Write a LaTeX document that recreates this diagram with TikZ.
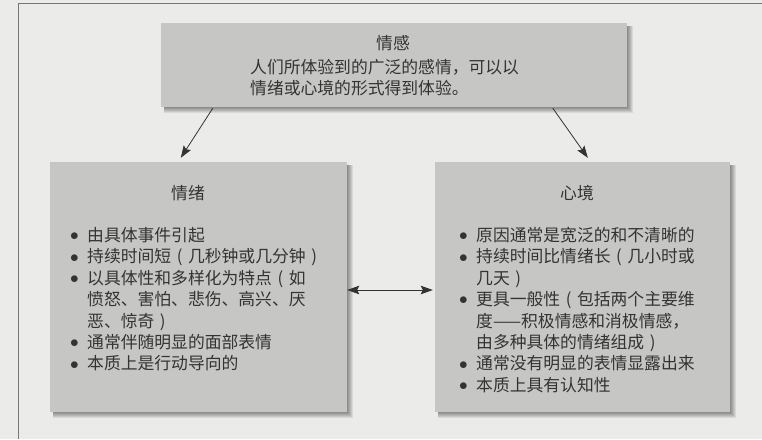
\documentclass[tikz,border=0pt]{standalone}
\usepackage{fontspec}
\setmainfont{Noto Sans CJK SC}
\usetikzlibrary{arrows.meta,calc}
\definecolor{bg}{HTML}{EBEBEA}
\definecolor{boxgray}{HTML}{C6C6C5}
\definecolor{ink}{HTML}{333333}
\definecolor{framec}{HTML}{767676}
\newcommand\bul{\makebox[17pt][l]{\raisebox{0.8pt}{\fontsize{16}{16}\selectfont$\bullet$}}}
\newcommand\ind{\hspace*{17pt}}
\newcommand\boxshadow[4]{%
  \foreach \k in {1,...,6}{\fill[black,opacity=0.08] (#1+3,#2+3) rectangle (#3+\k,#4+\k);}}
\tikzset{
  box/.style={fill=boxgray, draw=none, inner sep=0pt},
  txt/.style={text=ink, font=\fontsize{16.8}{21.4}\selectfont, inner sep=0pt},
  listtxt/.style={txt, text width=290pt, align=left, anchor=base west},
  arr/.style={-{Stealth[length=12pt,width=8.5pt,inset=2pt]}, line width=0.8pt, draw=ink},
  arrboth/.style={{Stealth[length=12pt,width=8.5pt,inset=2pt]}-{Stealth[length=12pt,width=8.5pt,inset=2pt]}, line width=0.8pt, draw=ink}
}
\begin{document}
\begin{tikzpicture}[x=1pt,y=-1pt]
\fill[bg] (0,0) rectangle (762,439);
\useasboundingbox (0,0) rectangle (762,439);
\draw[framec, line width=0.8pt] (18,439) -- (18,3) -- (762,3);
% shadows
\boxshadow{161}{23}{627}{107}
\boxshadow{50}{162}{347}{412}
\boxshadow{435}{162}{730}{412}
% boxes
\node[box, minimum width=466pt, minimum height=84pt] (top) at (394,65) {};
\node[box, minimum width=297pt, minimum height=250pt] (emo) at (198.5,287) {};
\node[box, minimum width=295pt, minimum height=250pt] (mood) at (582.5,287) {};
% texts
\node[txt] (toptitle) at (393,43) {情感};
\node[listtxt] (toptext) at (250,73.4) {人们所体验到的广泛的感情，可以以\\情绪或心境的形式得到体验。};
\node[txt] (emotitle) at (188,193) {情绪};
\node[listtxt] (emolist) at (70,241.4) {\bul 由具体事件引起\\
\bul 持续时间短~(~几秒钟或几分钟~)\\
\bul 以具体性和多样化为特点~(~如\\
\ind 愤怒、害怕、悲伤、高兴、厌\\
\ind 恶、惊奇~)\\
\bul 通常伴随明显的面部表情\\
\bul 本质上是行动导向的};
\node[txt] (moodtitle) at (577,193) {心境};
\node[listtxt] (moodlist) at (459,241.4) {\bul 原因通常是宽泛的和不清晰的\\
\bul 持续时间比情绪长~(~几小时或\\
\ind 几天~)\\
\bul 更具一般性~(~包括两个主要维\\
\ind 度——积极情感和消极情感，\\
\ind 由多种具体的情绪组成~)\\
\bul 通常没有明显的表情显露出来\\
\bul 本质上具有认知性};
% connectors
\draw[arr] ([xshift=52pt,yshift=-1pt]top.south west) -- ([xshift=131pt,yshift=4pt]emo.north west);
\draw[arr] ([xshift=392pt,yshift=-1pt]top.south west) -- ([xshift=153pt,yshift=4pt]mood.north west);
\draw[arrboth] ([yshift=-3pt]emo.east) -- ([xshift=-2pt,yshift=-3pt]mood.west);
\end{tikzpicture}
\end{document}
